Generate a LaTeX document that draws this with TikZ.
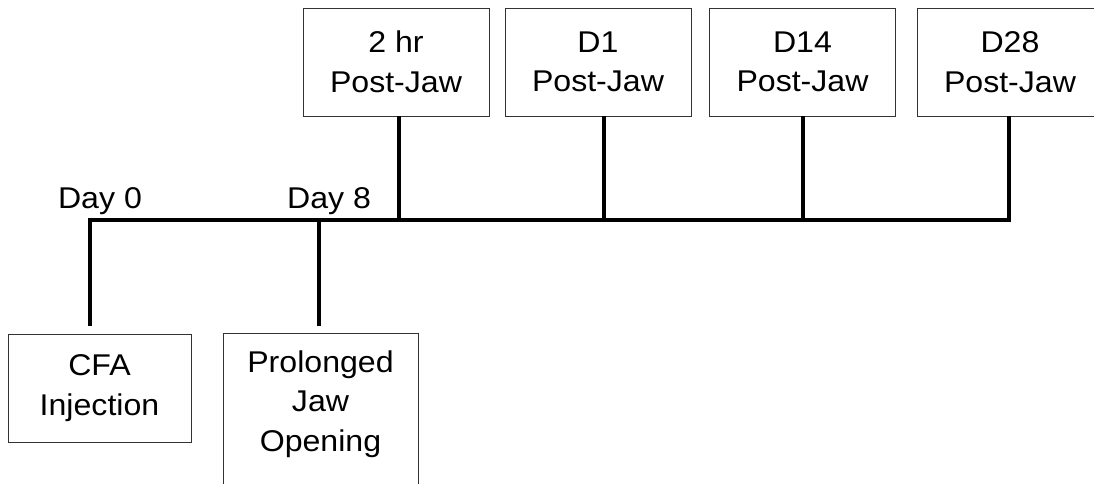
\documentclass[tikz,border=0pt]{standalone}
\usepackage{fontspec}
\setmainfont{Liberation Sans}[FakeStretch=1.07]
\usetikzlibrary{positioning, calc}

\begin{document}
\begin{tikzpicture}[
    x=1pt, y=-1pt,
    box/.style={draw=black!80, line width=0.9pt, minimum width=186pt, minimum height=108pt, font=\fontsize{30}{39.5}\selectfont, align=center, inner sep=0pt},
    lab/.style={font=\fontsize{30}{36}\selectfont, anchor=base, inner sep=0pt},
    link/.style={line width=3.3pt},
]
\useasboundingbox (0,0) rectangle (1094,483);

% points on the time line
\coordinate (day0) at (90,220);
\coordinate (day8) at (319,220);
\coordinate (t2hr) at (399,220);
\coordinate (t1) at (604,220);
\coordinate (t14) at (803,220);
\coordinate (t28) at (1009,220);

\node[box] (hr2) at (396,62) {2 hr\\Post-Jaw};
\node[box] (d1) at (598,62) {D1\\Post-Jaw};
\node[box] (d14) at (802.5,62) {D14\\Post-Jaw};
\node[box] (d28) at (1010,62) {D28\\Post-Jaw};

\node[box, minimum width=183pt] (cfa) at (99.5,388) {CFA\\Injection};
\node[box, minimum width=195pt, anchor=north, inner ysep=17pt, text depth=70pt] (jaw) at (320.5,333) {Prolonged\\Jaw\\Opening};

\node[lab] (lab0) at (100,208) {Day 0};
\node[lab] (lab8) at (329,208) {Day 8};

\draw[link] ($(day0 |- cfa.north)+(0,-8)$) -- (day0) -- (t28) -- (t28 |- d28.south);
\draw[link] (day8) -- ($(day8 |- jaw.north)+(0,-7)$);
\foreach \t/\b in {t2hr/hr2, t1/d1, t14/d14}
    \draw[link] (\t) -- (\t |- \b.south);
\end{tikzpicture}
\end{document}
